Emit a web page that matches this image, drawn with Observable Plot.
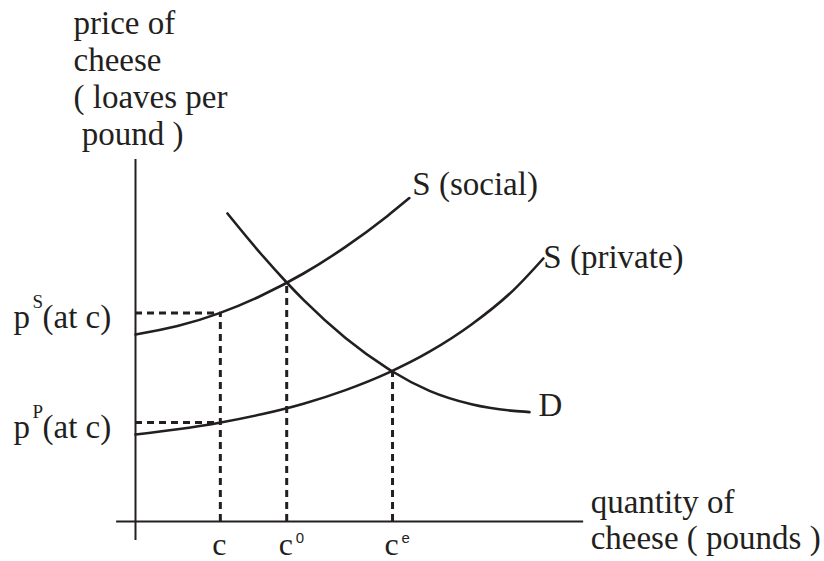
<!DOCTYPE html>
<html>
<head>
<meta charset="utf-8">
<script src="https://cdn.jsdelivr.net/npm/d3@7"></script>
<script src="https://cdn.jsdelivr.net/npm/@observablehq/plot@0.6"></script>
<style>
  html, body { margin: 0; padding: 0; background: #fff; }
  #chart svg { display: block; }
</style>
</head>
<body>
<div id="chart"></div>
<script>
// ---- data (abstract units) ----
const socialQ  = [0, 1, 2, 3, 4, 5, 6, 6.52];
const socialP  = [9.35, 9.77, 10.42, 11.30, 12.40, 13.73, 15.28, 16.17];
const privateQ = [0, 1, 2, 3, 4, 5, 6, 7, 8, 9, 9.71];
const privateP = [4.35, 4.61, 4.94, 5.36, 5.89, 6.57, 7.42, 8.49, 9.85, 11.57, 13.15];
const demandQ  = [2.19, 3, 3.6, 4, 5, 6, 6.12, 7, 8, 9, 9.38];
const demandP  = [15.4, 13.35, 11.95, 11.08, 9.18, 7.66, 7.5, 6.53, 5.86, 5.53, 5.47];

const qTicks      = [2.02, 3.6, 6.12];      // c, c0, ce
const qTickTop    = [10.43, 11.95, 7.5];    // where the dashed guides stop
const qTickLabels = ["c", "c", "c"];
const qTickSup    = ["", "0", "e"];

const pTicks      = [10.43, 4.95];          // pS(at c), pP(at c)
const pTickRight  = [2.02, 2.02];
const pTickSup    = ["S", "P"];
const pTickText   = "(at c)";

const curveNames  = ["S (social)", "S (private)", "D"];
const yTitle = "price of\ncheese\n( loaves per\n\u00a0pound )";
const xTitle = "quantity of\ncheese ( pounds )";
const xAxisEnd = 10.67, xAxisStart = -0.45, yAxisTop = 18.1, yAxisBottom = -0.95;

// ---- build tables ----
const toRows = (Q, P) => Q.map((q, i) => ({q, p: P[i]}));
const social = toRows(socialQ, socialP);
const priv = toRows(privateQ, privateP);
const demand = toRows(demandQ, demandP);
const qRows = qTicks.map((q, i) => ({q, top: qTickTop[i], label: qTickLabels[i], sup: qTickSup[i]}));
const pRows = pTicks.map((p, i) => ({p, q: pTickRight[i], sup: pTickSup[i], text: pTickText}));

const ink = "#231f20";
const serif = "'Liberation Serif', 'Times New Roman', serif";
const sans = "'Liberation Sans', Arial, sans-serif";
const dash = {stroke: ink, strokeWidth: 3, strokeDasharray: "7,5"};
const curveStyle = {x: "q", y: "p", curve: "monotone-x", stroke: ink, strokeWidth: 2.6};
const big = {fontSize: 33, fill: ink, fontFamily: serif, lineAnchor: "bottom", textAnchor: "start"};

const chart = Plot.plot({
  width: 824,
  height: 561,
  margin: 0,
  x: {domain: [0, 10], range: [135, 555], axis: null},
  y: {domain: [0, 18], range: [521, 161], axis: null},
  style: {background: "#fff", fontFamily: serif, color: ink, overflow: "visible"},
  marks: [
    // axes
    Plot.ruleX([0], {y1: yAxisBottom, y2: yAxisTop, stroke: ink, strokeWidth: 2}),
    Plot.ruleY([0], {x1: xAxisStart, x2: xAxisEnd, stroke: ink, strokeWidth: 2}),
    // dashed guides
    Plot.ruleY(pRows, {y: "p", x1: 0, x2: "q", ...dash}),
    Plot.ruleX(qRows, {x: "q", y1: 0, y2: "top", ...dash}),
    // curves
    Plot.line(social, curveStyle),
    Plot.line(priv, curveStyle),
    Plot.line(demand, curveStyle),
    // curve labels
    Plot.text([social[social.length - 1]], {x: "q", y: "p", text: () => curveNames[0], dx: 3, dy: -3, ...big}),
    Plot.text([priv[priv.length - 1]], {x: "q", y: "p", text: () => curveNames[1], dx: 0, dy: 9, ...big}),
    Plot.text([demand[demand.length - 1]], {x: "q", y: "p", text: () => curveNames[2], dx: 9, dy: 4, ...big}),
    // quantity tick labels
    Plot.text(qRows, {x: "q", y: 0, text: "label", dx: -8, dy: 33, ...big, fontSize: 32}),
    Plot.text(qRows, {x: "q", y: 0, text: "sup", dx: 9, dy: 21, fontSize: 15, fontFamily: sans, fill: ink, lineAnchor: "bottom", textAnchor: "start"}),
    // price tick labels
    Plot.text(pRows, {x: 0, y: "p", text: () => "p", dx: -122, dy: 15, ...big}),
    Plot.text(pRows, {x: 0, y: "p", text: "sup", dx: -103, dy: -5, fontSize: 19, fontFamily: serif, fill: ink, lineAnchor: "bottom", textAnchor: "start"}),
    Plot.text(pRows, {x: 0, y: "p", text: "text", dx: -93, dy: 15, ...big}),
    // axis titles
    Plot.text([yTitle], {frameAnchor: "top-left", text: d => d, dx: 73, dy: 144, lineHeight: 1.121, ...big}),
    Plot.text([xTitle], {x: xAxisEnd, y: 0, text: d => d, dx: 7, dy: 27, lineHeight: 1.091, ...big})
  ]
});
document.getElementById("chart").append(chart);
</script>
</body>
</html>
